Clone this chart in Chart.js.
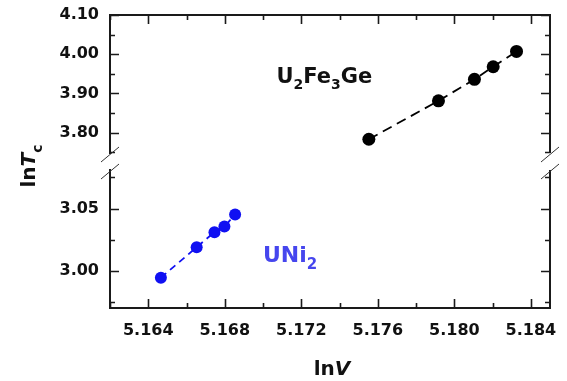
<!DOCTYPE html>
<html><head><meta charset="utf-8">
<script src="https://cdn.jsdelivr.net/npm/chart.js@4.4.1/dist/chart.umd.min.js"></script>
<style>html,body{margin:0;padding:0;background:#fff}canvas{display:block}</style>
</head><body>
<canvas id="c" width="567" height="381"></canvas>
<script>
// ---- data ----
const u2fe3geLnV  = [5.17553, 5.17917, 5.18105, 5.18203, 5.18325];
const u2fe3geLnTc = [3.783, 3.881, 3.936, 3.968, 4.007];
const uni2LnV     = [5.16466, 5.16653, 5.16746, 5.16798, 5.16854];
const uni2LnTc    = [2.9944, 3.0189, 3.031, 3.0355, 3.0452];

// ---- tick values ----
const xMajorTicks = [5.164, 5.168, 5.172, 5.176, 5.180, 5.184];
const xMinorTicks = [5.162, 5.166, 5.170, 5.174, 5.178, 5.182];
const yUpperMajorTicks = [3.80, 3.90, 4.00, 4.10];
const yUpperMinorTicks = [3.75, 3.85, 3.95, 4.05];
const yLowerMajorTicks = [3.00, 3.05];
const yLowerMinorTicks = [2.975, 3.025, 3.075];

// ---- axis ranges ----
const xRange = [5.162, 5.185];
const yUpperRange = [3.748, 4.10];
const yLowerRange = [2.970, 3.081];

const FONT = "'DejaVu Sans', sans-serif";
const AXIS = '#1a1a1a';
const TXT = '#111';

function isIn(v, arr) { return arr.some(a => Math.abs(a - v) < 1e-9); }
function tickBuilder(major, minor) {
  return scale => {
    scale.ticks = major.concat(minor).sort((a, b) => a - b).map(v => ({ value: v }));
  };
}
function fixSize(prop, size) {
  return s => {
    s[prop] = size;
    s.paddingTop = 0; s.paddingBottom = 0; s.paddingLeft = 0; s.paddingRight = 0;
  };
}

const tickFont = { family: FONT, size: 16, weight: 'bold' };

const decorPlugin = {
  id: 'decor',
  afterDraw(chart) {
    const ctx = chart.ctx;
    const ca = chart.chartArea;
    const xs = chart.scales.x, yt = chart.scales.yTop, yb = chart.scales.yBot;
    const MAJ = 9, MIN = 5;
    ctx.save();
    ctx.strokeStyle = AXIS;
    ctx.lineWidth = 2;
    ctx.lineCap = 'butt';
    // top and right frame
    ctx.beginPath();
    ctx.moveTo(ca.left - 1, ca.top); ctx.lineTo(ca.right + 1, ca.top);
    ctx.moveTo(ca.right, ca.top); ctx.lineTo(ca.right, yt.bottom);
    ctx.moveTo(ca.right, yb.top); ctx.lineTo(ca.right, ca.bottom + 1);
    ctx.stroke();
    // x tick marks (bottom and top, inward)
    ctx.lineWidth = 1.6;
    ctx.beginPath();
    xMajorTicks.concat(xMinorTicks).forEach(v => {
      const len = isIn(v, xMajorTicks) ? MAJ : MIN;
      const px = Math.round(xs.getPixelForValue(v)) + 0.5;
      ctx.moveTo(px, ca.bottom); ctx.lineTo(px, ca.bottom - len);
      ctx.moveTo(px, ca.top); ctx.lineTo(px, ca.top + len);
    });
    // y tick marks (left and right, inward)
    [[yt, yUpperMajorTicks, yUpperMinorTicks], [yb, yLowerMajorTicks, yLowerMinorTicks]].forEach(([s, maj, min]) => {
      maj.concat(min).forEach(v => {
        const len = isIn(v, maj) ? MAJ : MIN;
        const py = Math.round(s.getPixelForValue(v)) + 0.5;
        ctx.moveTo(ca.left, py); ctx.lineTo(ca.left + len, py);
        ctx.moveTo(ca.right, py); ctx.lineTo(ca.right - len, py);
      });
    });
    ctx.stroke();
    // axis break marks
    ctx.lineWidth = 1;
    ctx.strokeStyle = '#333';
    ctx.beginPath();
    [ca.left, ca.right].forEach(x0 => {
      [yt.bottom + 1.5, yb.top + 1.5].forEach(y0 => {
        ctx.moveTo(x0 - 9, y0 + 7.5); ctx.lineTo(x0 + 9, y0 - 7.5);
      });
    });
    ctx.stroke();

    // axis titles
    ctx.fillStyle = TXT;
    ctx.textBaseline = 'alphabetic';
    ctx.textAlign = 'left';
    // x title: "ln V" with italic V
    const fUp = 'bold 20px ' + FONT, fIt = 'italic bold 20px ' + FONT;
    ctx.font = fUp; const wLn = ctx.measureText('ln').width;
    ctx.font = fIt; const wV = ctx.measureText('V').width;
    let x0 = 332 - (wLn + wV) / 2;
    ctx.font = fUp; ctx.fillText('ln', x0, 375);
    ctx.font = fIt; ctx.fillText('V', x0 + wLn, 375);
    // y title: "ln Tc" rotated
    ctx.save();
    ctx.translate(35, 166);
    ctx.rotate(-Math.PI / 2);
    const fSub = 'bold 14px ' + FONT;
    ctx.font = fUp; const wLn2 = ctx.measureText('ln').width;
    ctx.font = fIt; const wT = ctx.measureText('T').width;
    ctx.font = fSub; const wc = ctx.measureText('c').width;
    let sx = -(wLn2 + wT + wc) / 2;
    ctx.font = fUp; ctx.fillText('ln', sx, 0);
    ctx.font = fIt; ctx.fillText('T', sx + wLn2, 0);
    ctx.font = fSub; ctx.fillText('c', sx + wLn2 + wT, 7);
    ctx.restore();

    // series annotations
    function rich(parts, x, y, color) {
      ctx.fillStyle = color;
      parts.forEach(([t, size, dy]) => {
        ctx.font = 'bold ' + size + 'px ' + FONT;
        ctx.fillText(t, x, y + dy);
        x += ctx.measureText(t).width;
      });
    }
    rich([['U', 21, 0], ['2', 14, 6], ['Fe', 21, 0], ['3', 14, 6], ['Ge', 21, 0]], 276.5, 82.5, TXT);
    rich([['UNi', 22, 0], ['2', 15, 7.5]], 263, 261.7, '#4646ee');
    ctx.restore();
  }
};

new Chart(document.getElementById('c'), {
  type: 'scatter',
  data: {
    datasets: [
      {
        label: 'U2Fe3Ge',
        data: u2fe3geLnV.map((x, i) => ({ x: x, y: u2fe3geLnTc[i] })),
        xAxisID: 'x', yAxisID: 'yTop',
        showLine: true,
        borderColor: '#000', borderWidth: 1.8, borderDash: [10, 6],
        backgroundColor: '#000',
        pointBackgroundColor: '#000', pointBorderColor: '#000',
        pointRadius: 6.5, pointBorderWidth: 0, pointHoverRadius: 6.5,
        clip: false
      },
      {
        label: 'UNi2',
        data: uni2LnV.map((x, i) => ({ x: x, y: uni2LnTc[i] })),
        xAxisID: 'x', yAxisID: 'yBot',
        showLine: true,
        borderColor: '#1010f2', borderWidth: 1.8, borderDash: [7, 5],
        backgroundColor: '#1010f2',
        pointBackgroundColor: '#1010f2', pointBorderColor: '#1010f2',
        pointRadius: 6, pointBorderWidth: 0, pointHoverRadius: 6,
        clip: false
      }
    ]
  },
  options: {
    responsive: false,
    animation: false,
    devicePixelRatio: 1,
    events: [],
    layout: { padding: { left: 0, top: 15, right: 17, bottom: 0 } },
    plugins: { legend: { display: false }, tooltip: { enabled: false } },
    scales: {
      x: {
        type: 'linear', position: 'bottom',
        min: xRange[0], max: xRange[1],
        afterBuildTicks: tickBuilder(xMajorTicks, xMinorTicks),
        afterFit: fixSize('height', 73),
        ticks: {
          autoSkip: false, maxRotation: 0, padding: 13, color: TXT, font: tickFont,
          callback: v => isIn(v, xMajorTicks) ? v.toFixed(3) : ''
        },
        grid: { display: false, drawTicks: false },
        border: { display: true, color: AXIS, width: 2 }
      },
      yTop: {
        type: 'linear', position: 'left', stack: 'ys', stackWeight: 138, weight: 3,
        min: yUpperRange[0], max: yUpperRange[1],
        afterBuildTicks: tickBuilder(yUpperMajorTicks, yUpperMinorTicks),
        afterFit: fixSize('width', 110),
        ticks: {
          autoSkip: false, padding: 11, color: TXT, font: tickFont,
          callback: v => isIn(v, yUpperMajorTicks) ? v.toFixed(2) : ''
        },
        grid: { display: false, drawTicks: false },
        border: { display: true, color: AXIS, width: 2 }
      },
      yGap: {
        type: 'linear', position: 'left', stack: 'ys', stackWeight: 17, weight: 2,
        display: false
      },
      yBot: {
        type: 'linear', position: 'left', stack: 'ys', stackWeight: 138, weight: 1,
        min: yLowerRange[0], max: yLowerRange[1],
        afterBuildTicks: tickBuilder(yLowerMajorTicks, yLowerMinorTicks),
        afterFit: fixSize('width', 110),
        ticks: {
          autoSkip: false, padding: 11, color: TXT, font: tickFont,
          callback: v => isIn(v, yLowerMajorTicks) ? v.toFixed(2) : ''
        },
        grid: { display: false, drawTicks: false },
        border: { display: true, color: AXIS, width: 2 }
      }
    }
  },
  plugins: [decorPlugin]
});
</script>
</body></html>
